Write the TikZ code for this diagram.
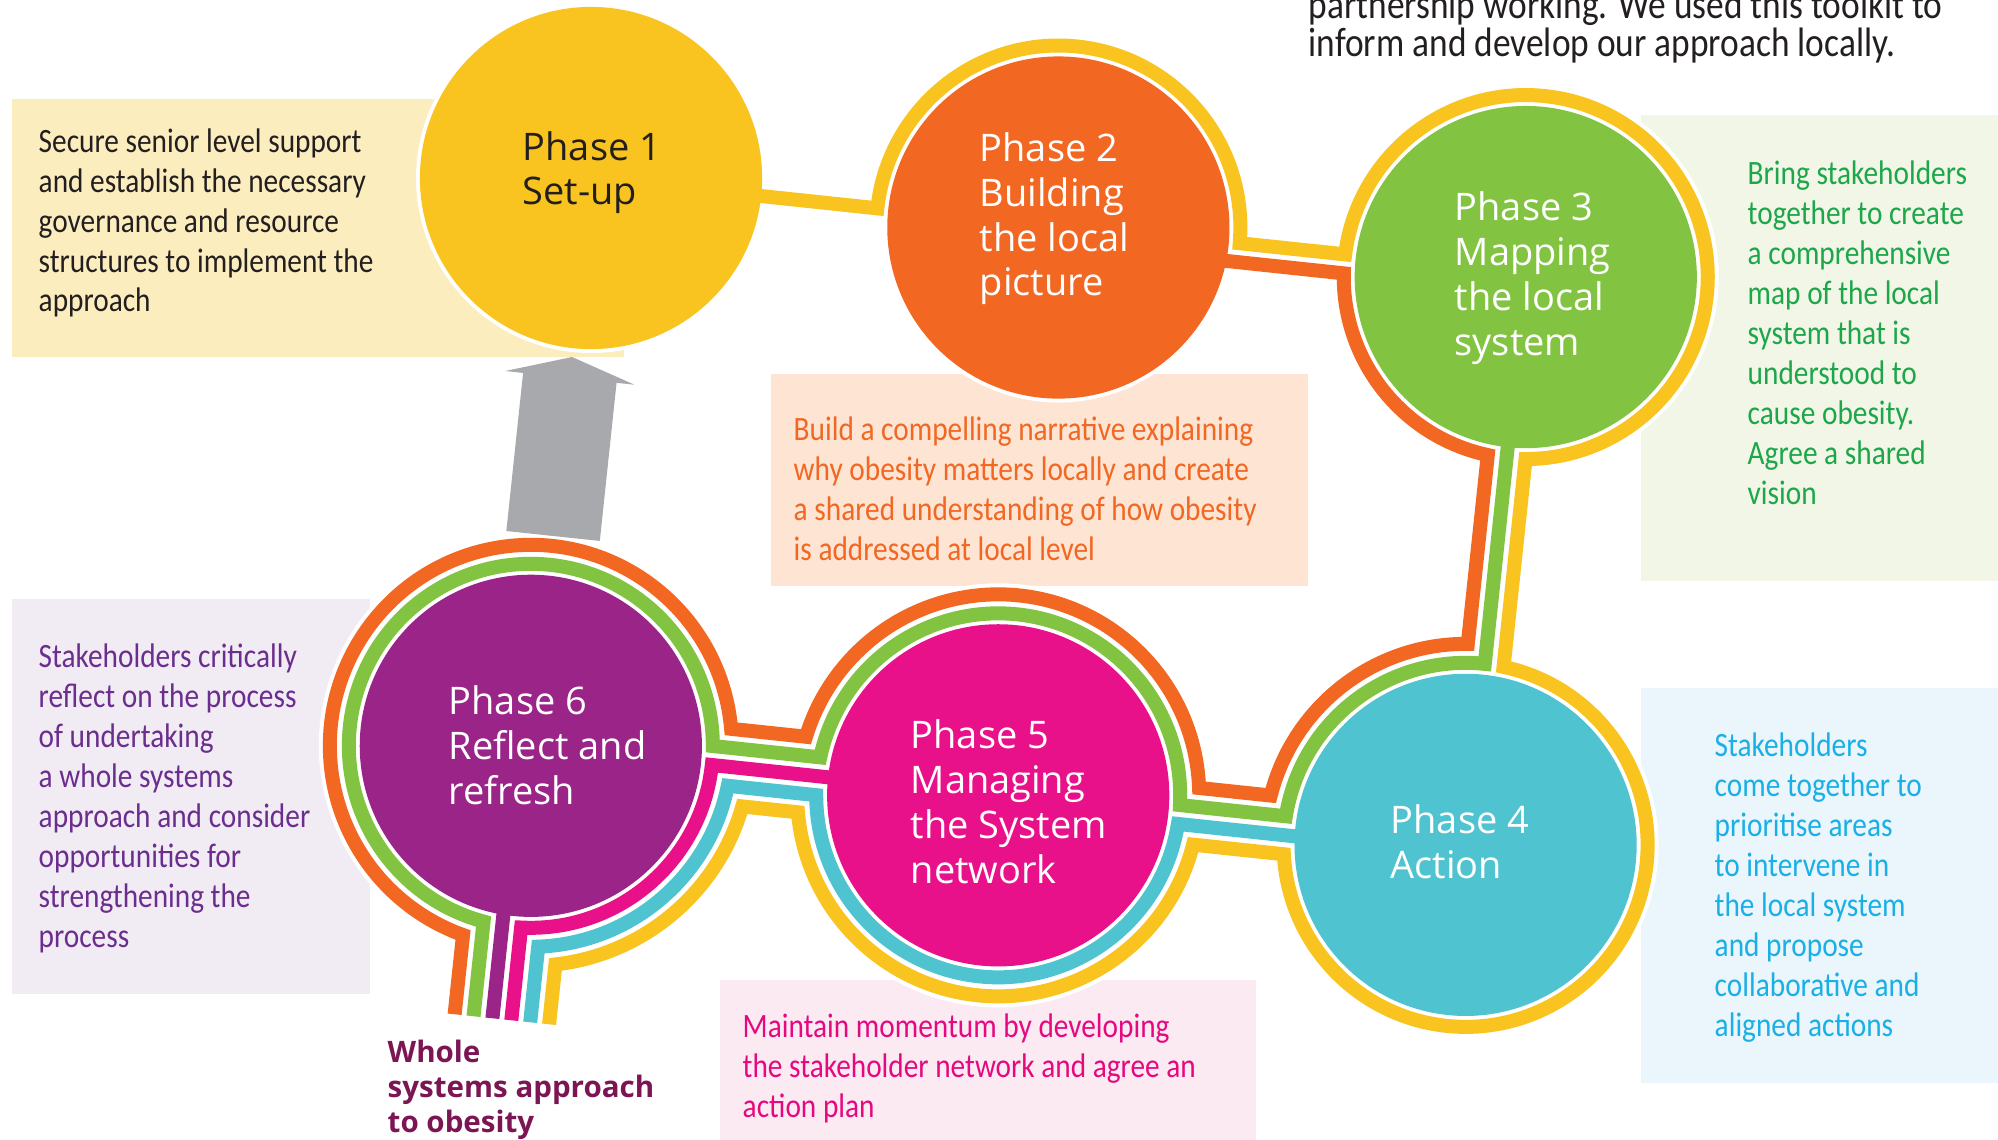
\documentclass[tikz,border=0pt]{standalone}
\usepackage{fontspec}
\usepackage{xcolor}
\usepackage{tikz}
\usetikzlibrary{calc}
\newfontfamily\boxfont{Carlito}[FakeStretch=0.86]
\newfontfamily\phasefont{Open Sans}
\definecolor{phaseyellow}{HTML}{F9C41F}
\definecolor{phaseorange}{HTML}{F26722}
\definecolor{phasegreen}{HTML}{82C341}
\definecolor{phasecyan}{HTML}{4FC3D0}
\definecolor{phasemagenta}{HTML}{E8118A}
\definecolor{phasepurple}{HTML}{9A2487}
\definecolor{arrowgray}{HTML}{A7A9AC}
\definecolor{boxyellow}{HTML}{FCEDBE}
\definecolor{boxorange}{HTML}{FDE4D3}
\definecolor{boxgreen}{HTML}{F1F6E6}
\definecolor{boxblue}{HTML}{EBF6FC}
\definecolor{boxpink}{HTML}{FCEAF3}
\definecolor{boxlilac}{HTML}{F1ECF4}
\definecolor{textdark}{HTML}{231F20}
\definecolor{textgreen}{HTML}{1DA64A}
\definecolor{textblue}{HTML}{1AAFE6}
\definecolor{textmagenta}{HTML}{E5097F}
\definecolor{textpurple}{HTML}{6B2D8E}
\definecolor{titlecolor}{HTML}{7B1553}
\tikzset{
    infobox/.style={
        rectangle,
        anchor=north west,
        inner sep=0pt,
        draw=none
    },
    boxtext/.style={
        anchor=base west,
        align=left,
        inner sep=0pt,
        font=\boxfont\fontsize{9.7}{11.34}\selectfont
    },
    phase/.style={
        circle,
        minimum size=3.42cm,
        inner sep=0pt,
        draw=none
    },
    phaselabel/.style={
        anchor=base west,
        align=left,
        inner sep=0pt,
        text=white,
        font=\phasefont\fontsize{10.8}{12.76}\selectfont
    },
    casing/.style={
        draw=white,
        line width=0.22cm,
        line join=miter
    },
    track/.style={
        line width=0.14cm,
        line join=miter
    }
}

\begin{document}
\begin{tikzpicture}[x=0.01cm, y=-0.01cm]
\useasboundingbox (0,0) rectangle (1998,1140);
\clip (0,0) rectangle (1998,1140);

% boxes (text nodes sit on the baseline of their last line)
\node[infobox, fill=boxyellow, minimum width=6.12cm, minimum height=2.58cm] (box1) at (11,98) {};
\node[infobox, fill=boxorange, minimum width=5.37cm, minimum height=2.12cm] (box2) at (770,373) {};
\node[infobox, fill=boxgreen, minimum width=3.60cm, minimum height=4.66cm] (box3) at (1640,114) {};
\node[infobox, fill=boxblue, minimum width=3.60cm, minimum height=3.95cm] (box4) at (1640,687) {};
\node[infobox, fill=boxpink, minimum width=5.36cm, minimum height=1.70cm] (box5) at (719,979) {};
\node[infobox, fill=boxlilac, minimum width=3.58cm, minimum height=3.95cm] (box6) at (11,598) {};

\node[boxtext, text=textdark] (text1) at (38,312) {Secure senior level support\\and establish the necessary\\governance and resource\\structures to implement the\\approach};
\node[boxtext, text=phaseorange] (text2) at (793,560) {Build a compelling narrative explaining\\why obesity matters locally and create\\a shared understanding of how obesity\\is addressed at local level};
\node[boxtext, text=textgreen] (text3) at (1747,504) {Bring stakeholders\\together to create\\a comprehensive\\map of the local\\system that is\\understood to\\cause obesity.\\Agree a shared\\vision};
\node[boxtext, text=textblue] (text4) at (1714,1036) {Stakeholders\\come together to\\prioritise areas\\to intervene in\\the local system\\and propose\\collaborative and\\aligned actions};
\node[boxtext, text=textmagenta] (text5) at (742,1117) {Maintain momentum by developing\\the stakeholder network and agree an\\action plan};
\node[boxtext, text=textpurple] (text6) at (38,947) {Stakeholders critically\\reflect on the process\\of undertaking\\a whole systems\\approach and consider\\opportunities for\\strengthening the\\process};
\node[boxtext, text=textdark, font=\boxfont\fontsize{11.7}{10.9}\selectfont] (intro) at (1308,57) {partnership working. We used this toolkit to\\inform and develop our approach locally.};
\node[anchor=base west, align=left, inner sep=0pt, text=titlecolor, font=\phasefont\bfseries\fontsize{8.4}{9.92}\selectfont] (title) at (387,1132) {Whole\\systems approach\\to obesity};

% tracks, drawn in the tilted grid of the six phases
\begin{scope}[shift={(591,178)}, rotate=-6.05]
\coordinate (c1) at (0,0);
\coordinate (c2) at (470,0);
\coordinate (c3) at (940,0);
\coordinate (c4) at (940,571);
\coordinate (c5) at (470,571);
\coordinate (c6) at (0,571);

\def\trackyellow{(c1) -- (288,0) arc[start angle=180, end angle=358.898, radius=182]
  -- (758.03,-3.5) arc[start angle=181.102, end angle=444.008, radius=182]
  -- (959,389.99) arc[start angle=275.992, end angle=530.991, radius=182]
  -- (668.97,599.5) arc[start angle=8.152, end angle=169.102, radius=201]
  -- (216.69,609) arc[start angle=9.946, end angle=77.529, radius=220]
  -- (47.5,846)}
\def\trackorange{(470,15.5) -- (758.66,15.5) arc[start angle=175.114, end angle=95.992, radius=182]
  -- (921,370.9) arc[start angle=264.576, end angle=188.152, radius=201]
  -- (668.97,542.5) arc[start angle=351.848, end angle=190.898, radius=201]
  -- (197.375,533) arc[start angle=349.102, end angle=103.669, radius=201]
  -- (-47.5,846)}
\def\trackgreen{(c3) -- (940,389) arc[start angle=270, end angle=182.992, radius=182]
  -- (651.75,561.5) arc[start angle=357.008, end angle=185.992, radius=182]
  -- (181.006,552) arc[start angle=354.008, end angle=99.009, radius=182]
  -- (-28.5,846)}
\def\trackcyan{(940,580.5) -- (651.75,580.5) arc[start angle=2.992, end angle=174.008, radius=182]
  -- (200.1,590) arc[start angle=5.424, end angle=81.848, radius=201]
  -- (28.5,846)}
\def\trackmagenta{(c5) -- (182,571) arc[start angle=0, end angle=87.008, radius=182]
  -- (9.5,846)}
\def\trackpurple{(-9.5,571) -- (-9.5,846)}

\draw[casing] \trackyellow;
\draw[casing] \trackorange;
\draw[casing] \trackgreen;
\draw[casing] \trackcyan;
\draw[casing] \trackmagenta;
\draw[casing] \trackpurple;
\foreach \i in {1,...,6}
    \fill[white] (c\i) circle[radius=175];

\draw[track, phaseyellow] \trackyellow;
\draw[track, phaseorange] \trackorange;
\draw[track, phasegreen] \trackgreen;
\draw[track, phasecyan] \trackcyan;
\draw[track, phasemagenta] \trackmagenta;
\draw[track, phasepurple] \trackpurple;

% arrow back to set-up
\fill[arrowgray] (-47,360) -- (-47,201) -- (-65,201) -- (0,180) -- (65,201) -- (47,201) -- (47,360) -- cycle;
\end{scope}

% phases
\node[phase, fill=phaseyellow] (p1) at (c1) {};
\node[phase, fill=phaseorange] (p2) at (c2) {};
\node[phase, fill=phasegreen] (p3) at (c3) {};
\node[phase, fill=phasecyan] (p4) at (c4) {};
\node[phase, fill=phasemagenta] (p5) at (c5) {};
\node[phase, fill=phasepurple] (p6) at (c6) {};

\node[phaselabel, text=textdark] (label1) at (522,205) {Phase 1\\Set-up};
\node[phaselabel] (label2) at (979,296) {Phase 2\\Building\\the local\\picture};
\node[phaselabel] (label3) at (1454,355) {Phase 3\\Mapping\\the local\\system};
\node[phaselabel] (label4) at (1390,878) {Phase 4\\Action};
\node[phaselabel] (label5) at (910,883) {Phase 5\\Managing\\the System\\network};
\node[phaselabel] (label6) at (448,804) {Phase 6\\Reflect and\\refresh};
\end{tikzpicture}
\end{document}
